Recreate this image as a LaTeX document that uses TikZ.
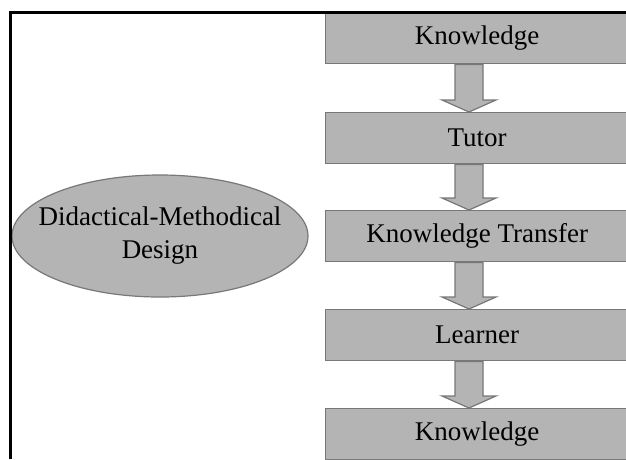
\documentclass[tikz,border=0pt]{standalone}
\usepackage{fontspec}
\setmainfont{Liberation Serif}
\usetikzlibrary{shapes.geometric,calc}
\definecolor{boxfill}{RGB}{180,180,180}
\definecolor{boxline}{RGB}{120,120,120}
\newcommand\blockarrow[2]{%
  \draw[arrowshape] (455,0 |- #1.south) -- ($(455,0 |- #2.north)+(0,-12)$) -- ($(442,0 |- #2.north)+(0,-12)$) -- (469,0 |- #2.north) -- ($(496,0 |- #2.north)+(0,-12)$) -- ($(483,0 |- #2.north)+(0,-12)$) -- (483,0 |- #1.south) -- cycle;}
\begin{document}
\begin{tikzpicture}[x=1pt,y=-1pt,
  stagebox/.style={draw=boxline, fill=boxfill, line width=1.4pt, minimum width=303pt, minimum height=51pt, inner sep=0pt, anchor=north west, font=\fontsize{27}{30}\selectfont},
  arrowshape/.style={draw=boxline, fill=boxfill, line width=1.2pt, line join=miter},
  designshape/.style={ellipse, draw=boxline, fill=boxfill, line width=1.2pt, minimum width=296pt, minimum height=122pt, inner xsep=-22pt, inner ysep=0pt, align=center, font=\fontsize{27}{33}\selectfont},
  frameline/.style={line width=3pt, black}]
\useasboundingbox (0,0) rectangle (626,459);
\fill[white] (0,0) rectangle (626,459);
\node[stagebox] (k1) at (325,12) {Knowledge};
\node[stagebox] (tu) at (325,112) {Tutor};
\node[stagebox] (kt) at (325,210) {Knowledge Transfer};
\node[stagebox] (le) at (325,309) {Learner};
\node[stagebox] (k2) at (325,408) {Knowledge};
\blockarrow{k1}{tu}
\blockarrow{tu}{kt}
\blockarrow{kt}{le}
\blockarrow{le}{k2}
\node[designshape] (dm) at (160,236) {Didactical-Methodical\\Design};
\draw[frameline] (10.5,459) -- (10.5,12.5) -- (626,12.5);
\end{tikzpicture}
\end{document}
